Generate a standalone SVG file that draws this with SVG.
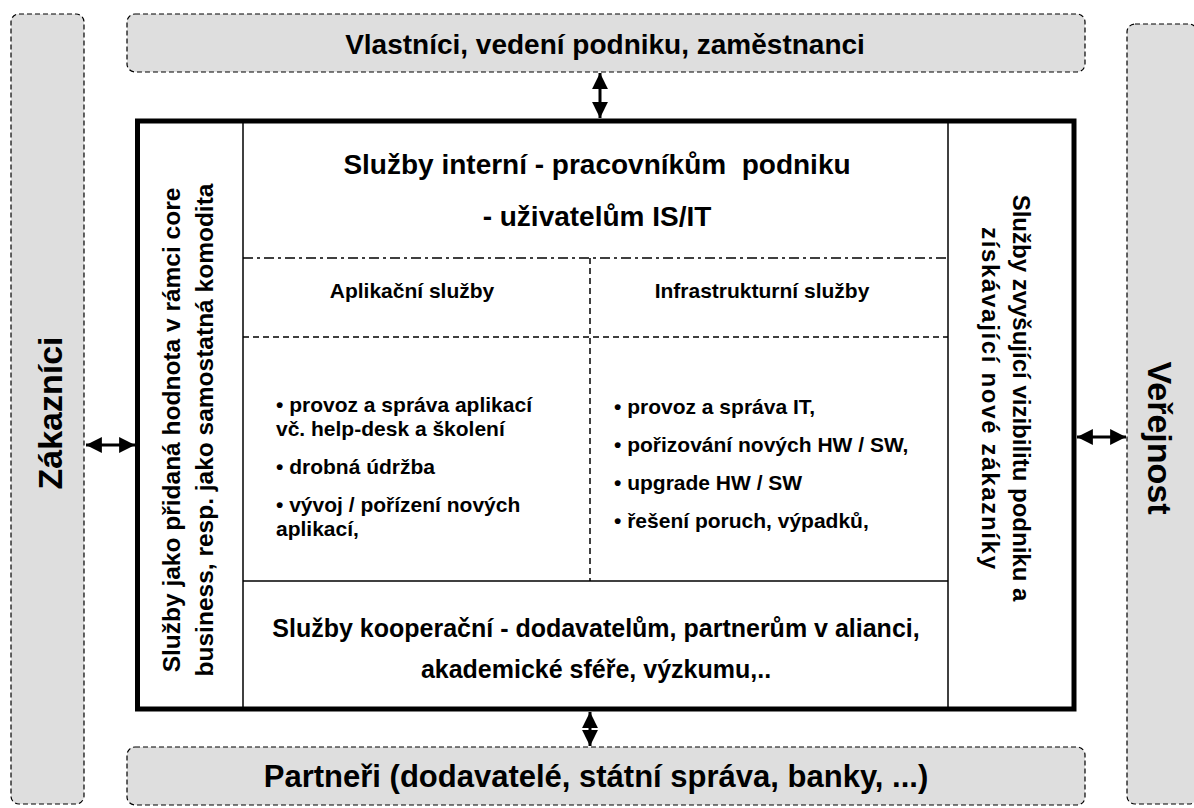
<svg xmlns="http://www.w3.org/2000/svg" width="1194" height="808" viewBox="0 0 1194 808">
<style>
.ext{fill:#dedede;stroke:#000;stroke-width:1.2;stroke-dasharray:5,3}
text{font-family:"Liberation Sans",Arial,sans-serif;font-weight:bold;fill:#000}
.conn line{stroke:#000;stroke-width:3}
</style>
<defs>
<marker id="ah" viewBox="0 0 10 10" refX="10" refY="5" markerWidth="5.3" markerHeight="5.3" orient="auto-start-reverse" markerUnits="strokeWidth"><path d="M0,0 L10,5 L0,10 z" fill="#000"/></marker>
</defs>
<rect width="1194" height="808" fill="#fff"/>
<g id="zakaznici"><rect class="ext" x="11" y="14" width="73" height="790" rx="8"/>
<text transform="translate(62,413) rotate(-90)" text-anchor="middle" font-size="34">Zákazníci</text></g>
<g id="vlastnici"><rect class="ext" x="127" y="14" width="958" height="58" rx="8"/>
<text x="605" y="54" text-anchor="middle" font-size="28">Vlastníci, vedení podniku, zaměstnanci</text></g>
<g id="verejnost"><rect class="ext" x="1127" y="24" width="70" height="780" rx="8"/>
<text transform="translate(1148,438) rotate(90)" text-anchor="middle" font-size="34">Veřejnost</text></g>
<g id="partneri"><rect class="ext" x="127" y="747" width="958" height="58" rx="8"/>
<text x="596" y="787" text-anchor="middle" font-size="31">Partneři (dodavatelé, státní správa, banky, ...)</text></g>
<g id="main">
<rect x="137.5" y="121" width="936.5" height="588" fill="#fff" stroke="#000" stroke-width="5"/>
<line x1="243" y1="121" x2="243" y2="709" stroke="#000" stroke-width="1.5"/>
<line x1="948" y1="121" x2="948" y2="709" stroke="#000" stroke-width="1.5"/>
<line x1="243" y1="581" x2="948" y2="581" stroke="#000" stroke-width="1.5"/>
<line x1="243" y1="258" x2="948" y2="258" stroke="#000" stroke-width="1.5" stroke-dasharray="10,4,3,4"/>
<line x1="243" y1="337" x2="948" y2="337" stroke="#000" stroke-width="1.5" stroke-dasharray="6,4"/>
<line x1="590" y1="258" x2="590" y2="581" stroke="#000" stroke-width="1.5" stroke-dasharray="6,4"/>
</g>
<g id="left-col"><text transform="translate(180,430) rotate(-90)" text-anchor="middle" font-size="24.5"><tspan x="0" y="0">Služby jako přidaná hodnota v rámci core</tspan><tspan x="0" y="33">business, resp. jako samostatná komodita</tspan></text></g>
<g id="right-col"><text transform="translate(1013,398) rotate(90)" text-anchor="middle" font-size="24">Služby zvyšující vizibilitu podniku a</text>
<text transform="translate(982,398) rotate(90)" text-anchor="middle" font-size="24" textLength="342" lengthAdjust="spacing">získávající nové zákazníky</text></g>
<g id="interni"><text x="597" y="174" text-anchor="middle" font-size="28">Služby interní - pracovníkům&#160; podniku</text>
<text x="597" y="226" text-anchor="middle" font-size="28">- uživatelům IS/IT</text></g>
<g id="aplikacni"><text x="412" y="298" text-anchor="middle" font-size="21">Aplikační služby</text>
<g font-size="21"><text x="276" y="412">• provoz a správa aplikací</text><text x="276" y="436">vč. help-desk a školení</text><text x="276" y="474">• drobná údržba</text><text x="276" y="512">• vývoj / pořízení nových</text><text x="276" y="536">aplikací,</text></g></g>
<g id="infra"><text x="762" y="298" text-anchor="middle" font-size="21">Infrastrukturní služby</text>
<g font-size="21"><text x="614" y="414">• provoz a správa IT,</text><text x="614" y="452">• pořizování nových HW / SW,</text><text x="614" y="490">• upgrade HW / SW</text><text x="614" y="528">• řešení poruch, výpadků,</text></g></g>
<g id="kooperacni"><text x="596" y="637" text-anchor="middle" font-size="25">Služby kooperační - dodavatelům, partnerům v alianci,</text>
<text x="596" y="678" text-anchor="middle" font-size="25">akademické sféře, výzkumu,..</text></g>
<g class="conn" id="connectors">
<line x1="600" y1="73" x2="600" y2="118" marker-start="url(#ah)" marker-end="url(#ah)"/>
<line x1="86" y1="445" x2="135" y2="445" marker-start="url(#ah)" marker-end="url(#ah)"/>
<line x1="1077" y1="437" x2="1126" y2="437" marker-start="url(#ah)" marker-end="url(#ah)"/>
<line x1="590" y1="712" x2="590" y2="746" marker-start="url(#ah)" marker-end="url(#ah)"/>
</g>
</svg>
